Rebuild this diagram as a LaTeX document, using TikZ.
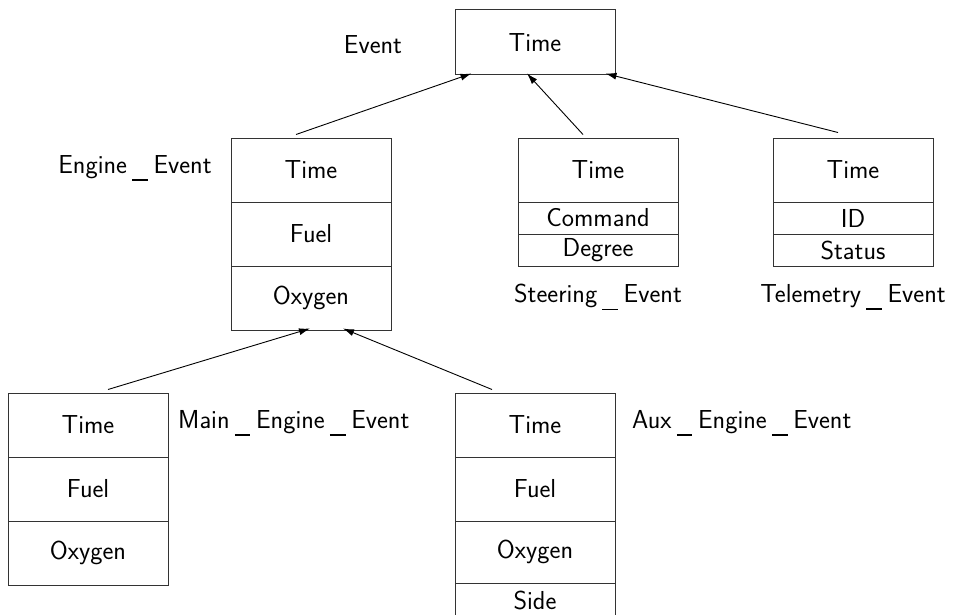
\documentclass[tikz,border=0pt]{standalone}
\usetikzlibrary{arrows.meta}
% spaced, low underscore used in the class names
\newcommand{\lowbar}{\kern0.2em\rule[-0.27em]{0.6em}{0.045em}\kern0.22em}
\begin{document}
\begin{tikzpicture}[x=1pt,y=-1pt,
  every node/.style={font=\sffamily\fontsize{26}{30}\selectfont, inner sep=0pt},
  cell/.style={draw=black!80, line width=1pt, minimum width=160pt, minimum height=#1, anchor=center},
  cell/.default=64pt,
  tag/.style={},
  inherit/.style={line width=0.9pt, -{Latex[length=11pt,width=7pt]}}]
\useasboundingbox (0,0) rectangle (955,615);
\clip (0,0) rectangle (955,615);

% Event
\node[cell=65pt] (ev) at (535,42.5) {Time};
\node[tag] (evL) at (373,45) {Event};

% Engine_Event
\node[cell] (enT) at (311,170) {Time};
\node[cell] (enF) at (311,234) {Fuel};
\node[cell] (enO) at (311,298) {Oxygen};
\node[tag] (enL) at (135,168) {Engine\lowbar Event};

% Steering_Event
\node[cell] (stT) at (598,170) {Time};
\node[cell=32pt] (stC) at (598,218) {Command};
\node[cell=32pt] (stD) at (598,250) {Degree};
\node[tag] (stL) at (598,297) {Steering\lowbar Event};

% Telemetry_Event
\node[cell] (teT) at (853,170) {Time};
\node[cell=32pt] (teI) at (853,218) {ID};
\node[cell=32pt] (teS) at (853,250) {Status};
\node[tag] (teL) at (853,297) {Telemetry\lowbar Event};

% Main_Engine_Event
\node[cell] (maT) at (88,425) {Time};
\node[cell] (maF) at (88,489) {Fuel};
\node[cell] (maO) at (88,553) {Oxygen};
\node[tag,anchor=west] (maL) at (178,423) {Main\lowbar Engine\lowbar Event};

% Aux_Engine_Event
\node[cell] (auT) at (535,425) {Time};
\node[cell] (auF) at (535,489) {Fuel};
\node[cell=62pt] (auO) at (535,552) {Oxygen};
\node[cell=34pt,anchor=north] (auS) at (535,583) {Side};
\node[tag,anchor=west] (auL) at (632,423) {Aux\lowbar Engine\lowbar Event};

% inheritance arrows
\draw[inherit] ([xshift=-15pt,yshift=3pt]enT.north) -- ([xshift=17pt,yshift=2pt]ev.south west);
\draw[inherit] ([xshift=-15pt,yshift=3pt]stT.north) -- ([xshift=-8pt,yshift=2pt]ev.south);
\draw[inherit] ([xshift=-15pt,yshift=5pt]teT.north) -- ([xshift=-10pt,yshift=2pt]ev.south east);
\draw[inherit] ([xshift=20pt,yshift=3pt]maT.north) -- ([xshift=-1pt,yshift=2pt]enO.south);
\draw[inherit] ([xshift=-43pt,yshift=3pt]auT.north) -- ([xshift=32pt,yshift=2pt]enO.south);
\end{tikzpicture}
\end{document}
